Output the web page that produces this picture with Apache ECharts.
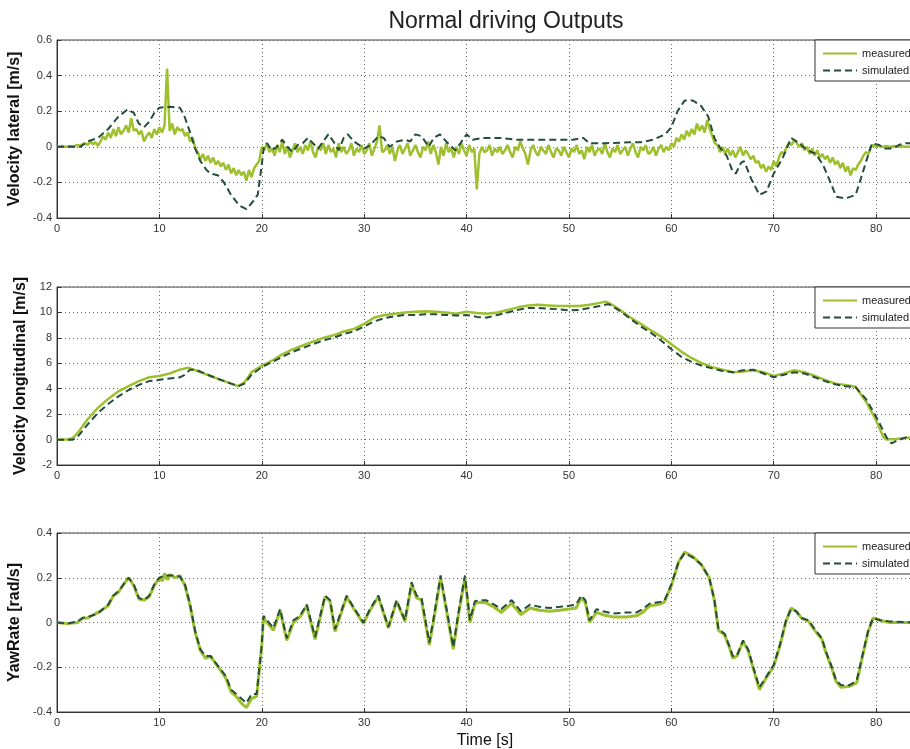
<!DOCTYPE html>
<html><head><meta charset="utf-8">
<script src="https://cdn.jsdelivr.net/npm/echarts@6/dist/echarts.min.js"></script>
<style>html,body{margin:0;padding:0;background:#fff}#c{width:910px;height:749px}</style>
</head><body><div id="c"></div>
<script>
// ---------- DATA ----------
const xTickValues = [0,10,20,30,40,50,60,70,80];
const seriesNames = ['measured','simulated'];

// Lateral velocity, measured (sampled every 0.25 s)
const latMeasStep = 0.25;
const latMeasV = [
 0,0,0.005,0, 0,0.005,0,0.005, 0.01,0.005,0.015,0.02, 0.01,0.03,0.015,0.025,
 0.005,0.03,0.06,0.04, 0.08,0.05,0.1,0.06, 0.11,0.07,0.09,0.12, 0.08,0.16,0.09,0.1,
 0.07,0.09,0.03,0.06, 0.08,0.05,0.1,0.07, 0.11,0.08,0.12,0.44, 0.09,0.13,0.07,0.11,
 0.09,0.1,0.06,0.08, 0.03,0.05,-0.01,-0.03, -0.07,-0.04,-0.08,-0.05, -0.09,-0.06,-0.1,-0.08,
 -0.11,-0.09,-0.13,-0.1, -0.15,-0.12,-0.16,-0.13, -0.16,-0.14,-0.19,-0.13, -0.17,-0.12,-0.1,-0.08,
 0.0,-0.02,0.02,-0.03, -0.01,-0.05,0.01,-0.03, 0.03,-0.04,0.0,-0.06, -0.02,0.02,-0.03,0.0,
 -0.04,0.01,-0.02,0.03, -0.03,-0.06,0.0,-0.02, 0.02,-0.04,0.01,-0.03, -0.01,-0.06,0.02,-0.03,
 0.0,-0.04,-0.02,0.02, -0.05,-0.01,-0.03,0.01, -0.04,-0.02,0.02,-0.05, -0.01,0.03,0.12,-0.03,
 -0.02,0.01,-0.04,0.0, -0.08,-0.02,0.01,-0.04, -0.01,0.02,-0.05,-0.02, 0.01,-0.03,-0.06,0.0,
 -0.02,0.03,-0.04,0.01, -0.03,-0.1,0.0,-0.05, 0.02,-0.03,-0.01,-0.06, 0.0,-0.04,0.02,-0.02,
 -0.05,0.01,-0.03,-0.01, -0.24,-0.04,0.0,-0.03, -0.02,0.01,-0.05,-0.01, -0.03,0.0,-0.04,-0.02,
 0.01,-0.03,-0.06,0.0, -0.02,0.03,-0.01,-0.04, -0.1,-0.02,0.01,-0.03, -0.05,0.0,-0.02,-0.04,
 0.01,-0.03,-0.06,-0.01, -0.02,-0.05,0.0,-0.03, -0.06,-0.01,-0.03,0.01, -0.04,-0.02,-0.07,0.0,
 -0.03,0.01,-0.05,-0.02, -0.01,-0.04,0.02,-0.03, -0.06,-0.01,-0.03,0.01, -0.04,-0.02,0.0,-0.05,
 -0.01,0.02,-0.03,-0.06, 0.0,-0.02,0.01,-0.04, -0.03,0.0,-0.05,-0.01, 0.01,-0.03,0.0,-0.02,
 0.02,0.0,0.05,0.03, 0.07,0.04,0.09,0.06, 0.1,0.07,0.13,0.09, 0.12,0.08,0.15,0.1,
 0.06,0.02,0.01,-0.03, 0.0,-0.04,-0.01,-0.05, -0.02,-0.06,-0.03,0.0, -0.05,-0.02,-0.04,-0.07,
 -0.05,-0.09,-0.08,-0.12, -0.1,-0.14,-0.11,-0.13, -0.08,-0.11,-0.06,-0.03, -0.04,0.0,0.02,0.01,
 0.04,0.02,0.0,0.02, -0.02,0.0,-0.04,-0.01, -0.05,-0.02,-0.06,-0.04, -0.07,-0.05,-0.09,-0.06,
 -0.1,-0.08,-0.12,-0.09, -0.14,-0.11,-0.16,-0.12, -0.13,-0.1,-0.08,-0.05, -0.03,-0.04,0.0,0.01,
 0.0,0.005,0.0,0.0, 0.005,0.0,0.0,0.005, 0.0,0.0,0.005,0.0, 0.0,0.0,0.0
];

// Lateral velocity, simulated (time / value)
const latSimT = [0,2.3,3,4,5,6,6.9,7.5,8,8.5,9,9.5,10,11,12,12.4,13,13.5,14,14.6,15,15.7,16.3,17,17.8,18.5,19.1,19.6,20,20.2,20.5,21,21.5,22,22.5,23,23.5,24,24.5,25,25.5,26,26.5,27,27.5,28,28.4,29,30,30.6,31.4,31.9,32.5,33.2,34,34.5,35,35.6,36.3,36.8,37.4,38,38.9,39.4,40,40.6,41.6,43.2,44.9,47.1,50.4,51.4,52,53.6,55.9,57,58.2,59.4,60,60.6,61.3,62.1,62.9,63.6,64.2,64.7,65.4,66,66.3,66.8,67.1,67.8,68.6,69.3,70,70.9,71.7,72.5,73.3,74.1,74.8,75.4,76.1,77,78,78.5,79.2,79.6,80.3,80.9,81.6,82.2,82.9,83.6];
const latSimV = [0,0,0.03,0.05,0.1,0.17,0.21,0.19,0.13,0.11,0.14,0.19,0.22,0.225,0.22,0.18,0.08,-0.01,-0.08,-0.13,-0.15,-0.16,-0.2,-0.27,-0.33,-0.35,-0.31,-0.27,-0.1,0,0.02,-0.02,0,0.04,0,-0.03,0.01,0.02,0.05,0.02,-0.01,0.03,0.07,0.03,-0.02,0.05,0.07,0.03,-0.01,0.01,0.06,0.05,0,0.03,0.04,0.03,0.07,0.06,0,0.05,0.07,0.03,-0.02,0.02,0.07,0.04,0.05,0.05,0.04,0.04,0.04,0.05,0.02,0.02,0.025,0.025,0.04,0.07,0.11,0.2,0.26,0.26,0.23,0.17,0.05,0,-0.05,-0.14,-0.15,-0.09,-0.08,-0.18,-0.27,-0.25,-0.15,-0.06,0.05,0.02,-0.02,-0.04,-0.1,-0.18,-0.28,-0.29,-0.27,-0.18,-0.05,0.02,0.01,-0.01,-0.01,0.01,0.02,0.02];

// Longitudinal velocity
const lonMeasT = [0,1,1.5,2,3,4,5,6,7,8,9,10,11,12,12.8,13.5,14,15,16,17,17.7,18.3,19,20,21,22,23,24,25,26,27,28,29,30,31,32,33,34,35,36,37,38,39,40,41,42,43,44,45,46,47,48,49,50,51,52,53,53.6,54,55,56,57,58,59,60,61,62,63,64,65,66,67,68,69,70,71,72,73,74,75,76,77,78,79,80,80.7,81,82,83,83.6];
const lonMeasV = [0,0,0.1,0.5,1.6,2.5,3.2,3.8,4.2,4.6,4.9,5.0,5.2,5.5,5.65,5.45,5.3,5.0,4.7,4.4,4.2,4.5,5.3,5.8,6.2,6.7,7.1,7.4,7.7,8.0,8.2,8.5,8.7,9.1,9.6,9.8,9.9,10.0,10.05,10.1,10.05,10.0,9.9,10.05,9.95,9.9,10.0,10.2,10.4,10.55,10.6,10.55,10.5,10.5,10.5,10.6,10.75,10.85,10.7,10.2,9.6,9.1,8.6,8.1,7.5,6.9,6.4,6.0,5.7,5.5,5.3,5.35,5.45,5.3,5.0,5.2,5.45,5.3,5.0,4.7,4.4,4.3,4.15,3.0,1.5,0.2,0.0,0.05,0.15,0.15];
const lonSimT = [0,1.5,2,3,4,5,6,7,8,9,10,11,12,12.5,13,13.5,14,15,16,17,17.7,18.3,19,20,21,22,23,24,25,26,27,28,29,30,31,32,33,34,35,36,37,38,39,40,41,42,43,44,45,46,47,48,49,50,51,52,53,53.8,54,55,56,57,58,59,60,61,62,63,64,65,66,67,68,69,70,71,72,73,74,75,76,77,78,79,80,81,81.5,82,83,83.6];
const lonSimV = [-0.02,-0.02,0.2,1.2,2.1,2.8,3.4,3.9,4.3,4.6,4.7,4.8,4.9,5.1,5.5,5.5,5.35,5.0,4.7,4.4,4.2,4.4,5.1,5.7,6.1,6.5,6.9,7.2,7.5,7.8,8.0,8.3,8.5,8.9,9.3,9.55,9.7,9.8,9.8,9.85,9.85,9.8,9.75,9.8,9.65,9.6,9.8,10.0,10.2,10.35,10.35,10.3,10.25,10.15,10.2,10.35,10.5,10.65,10.6,10.1,9.5,8.9,8.4,7.8,7.1,6.5,6.1,5.8,5.6,5.4,5.3,5.45,5.5,5.2,4.9,5.1,5.3,5.2,4.9,4.6,4.35,4.2,4.1,3.2,1.8,0.2,-0.3,-0.1,0.2,0.2];

// Yaw rate
const yawSimT = [0,1,2,2.5,3,4,5,5.5,6,6.5,7,7.5,8,8.5,9,9.5,10,10.5,11,11.5,12,12.5,13,13.5,14,14.5,15,15.5,16,16.5,17,17.5,18,18.5,19,19.5,20,20.16,21.14,21.79,22.44,23.09,23.74,24.39,25.2,26.18,26.67,27.15,28.29,28.94,29.92,30.57,31.38,32.36,33.17,33.98,34.63,35.12,35.6,36.36,36.75,37.46,38.05,38.7,39.19,39.84,40.33,40.81,41.3,41.9,42.7,43.4,44.4,45.3,46.2,47.1,48.1,49.1,50,50.7,51.2,51.6,52,52.7,53.3,54.3,55.6,56.6,57.2,57.9,58.7,59.3,60,60.7,61.3,62.1,62.9,63.7,64.2,64.6,65.2,65.7,66,66.4,67,67.5,68,68.6,69.3,70,70.6,71.2,71.7,72.2,72.7,73.4,74,74.7,75.1,75.6,76.1,76.6,77.4,78.1,78.7,79.2,79.7,80.4,81.3,83.6];
const yawSimV = [0,-0.005,0.005,0.02,0.025,0.04,0.08,0.12,0.14,0.17,0.2,0.17,0.11,0.1,0.12,0.17,0.2,0.21,0.21,0.21,0.205,0.17,0.08,-0.04,-0.12,-0.15,-0.15,-0.18,-0.21,-0.24,-0.3,-0.32,-0.34,-0.36,-0.32,-0.32,-0.1,0.03,-0.025,0.06,-0.07,0.01,0.03,0.08,-0.065,0.12,0.1,-0.03,0.12,0.07,0,0.06,0.12,-0.02,0.1,0.01,0.18,0.12,0.11,-0.09,0.01,0.21,0.06,-0.11,0.04,0.21,0.01,0.095,0.1,0.1,0.08,0.06,0.1,0.05,0.08,0.07,0.065,0.07,0.075,0.08,0.12,0.1,0.01,0.06,0.05,0.04,0.045,0.045,0.06,0.085,0.09,0.095,0.17,0.27,0.31,0.29,0.26,0.2,0.1,-0.03,-0.05,-0.11,-0.15,-0.15,-0.08,-0.12,-0.2,-0.29,-0.24,-0.19,-0.1,0.01,0.06,0.05,0.02,0.01,-0.03,-0.07,-0.13,-0.19,-0.26,-0.28,-0.28,-0.26,-0.14,-0.04,0.02,0.01,0.005,0];
const yawMeasT = [0,1,2,2.5,3,4,5,5.5,6,6.5,7,7.5,8,8.5,9,9.5,10,10.3,10.5,10.8,11,11.5,12,12.5,13,13.5,14,14.5,15,15.5,16,16.5,17,17.5,18,18.5,19,19.5,20,20.16,21.14,21.79,22.44,23.09,23.74,24.39,25.2,26.18,26.67,27.15,28.29,28.94,29.92,30.57,31.38,32.36,33.17,33.98,34.63,35.12,35.6,36.36,36.75,37.46,38.05,38.7,39.19,39.84,40.33,40.81,41.3,41.9,42.7,43.4,44.4,45.3,46.2,47.1,48.1,49.1,50,50.7,51.2,51.6,52,52.7,53.3,54.3,55.6,56.6,57.2,57.9,58.7,59.3,60,60.7,61.3,62.1,62.9,63.7,64.2,64.6,65.2,65.7,66,66.4,67,67.5,68,68.6,69.3,70,70.6,71.2,71.7,72.2,72.7,73.4,74,74.7,75.1,75.6,76.1,76.6,77.4,78.1,78.7,79.2,79.7,80.4,81.3,83.6];
const yawMeasV = [0,-0.005,0,0.02,0.02,0.045,0.075,0.12,0.135,0.17,0.2,0.165,0.105,0.1,0.115,0.165,0.2,0.185,0.22,0.19,0.215,0.2,0.21,0.165,0.075,-0.045,-0.125,-0.16,-0.15,-0.185,-0.215,-0.25,-0.31,-0.33,-0.36,-0.38,-0.34,-0.33,-0.1,0.02,-0.035,0.055,-0.08,0,0.025,0.075,-0.075,0.115,0.095,-0.04,0.115,0.065,-0.005,0.055,0.115,-0.025,0.095,0.005,0.17,0.11,0.1,-0.1,0,0.2,0.05,-0.12,0.03,0.2,0,0.085,0.09,0.088,0.068,0.045,0.085,0.035,0.065,0.055,0.05,0.055,0.06,0.065,0.11,0.09,0,0.045,0.035,0.025,0.025,0.03,0.045,0.075,0.08,0.09,0.165,0.27,0.315,0.295,0.26,0.2,0.1,-0.035,-0.055,-0.115,-0.16,-0.15,-0.085,-0.125,-0.205,-0.3,-0.245,-0.195,-0.105,0.005,0.065,0.05,0.02,0.005,-0.035,-0.075,-0.135,-0.195,-0.265,-0.29,-0.285,-0.27,-0.145,-0.045,0.02,0.01,0,0];

// ---------- CHART ----------
const zip = (t, v) => v.map((y, i) => [t[i], y]);
const latMeasT = latMeasV.map((_, i) => i * latMeasStep);

const MEAS = '#9fc02e', SIM = '#234e3b';
const FONT = 'Liberation Sans, Arial, sans-serif';
const grids = [
  {left: 57, top: 40, width: 856, height: 178},
  {left: 57, top: 287, width: 856, height: 178},
  {left: 57, top: 533, width: 856, height: 179}
].map(g => Object.assign(g, {show: true, borderColor: '#444', borderWidth: 1,
  backgroundColor: '#fff', containLabel: false, outerBoundsMode: 'none'}));

function xAxis(i, name) {
  return {
    type: 'value', gridIndex: i, min: 0, max: 83.6, interval: 10,
    name: name || '', nameLocation: 'middle', nameGap: 21,
    nameTextStyle: {fontFamily: FONT, fontSize: 16, color: '#111'},
    axisLine: {onZero: false, lineStyle: {color: '#333'}},
    axisTick: {inside: true, length: 4, lineStyle: {color: '#333'}},
    axisLabel: {fontFamily: FONT, fontSize: 11, color: '#333', margin: 5,
      formatter: v => (xTickValues.indexOf(Math.round(v * 100) / 100) >= 0 ? String(v) : '')},
    splitLine: {show: true, lineStyle: {color: '#666', type: [1, 3], width: 1}}
  };
}
function yAxis(i, min, max, interval, name) {
  return {
    type: 'value', gridIndex: i, min, max, interval,
    name, nameLocation: 'middle', nameRotate: 90, nameGap: 25,
    nameTextStyle: {fontFamily: FONT, fontSize: 16, fontWeight: 'bold', color: '#111'},
    axisLine: {show: true, onZero: false, lineStyle: {color: '#333'}},
    axisTick: {show: true, inside: true, length: 4, lineStyle: {color: '#333'}},
    axisLabel: {fontFamily: FONT, fontSize: 11, color: '#333', margin: 5},
    splitLine: {show: true, lineStyle: {color: '#666', type: [1, 3], width: 1}}
  };
}
function legend(top) {
  return {
    left: 815, top, orient: 'vertical', data: seriesNames,
    itemWidth: 34, itemHeight: 10, itemGap: 6,
    padding: [8, 20, 5, 7],
    itemStyle: {opacity: 0},
    backgroundColor: '#fff', borderColor: '#333', borderWidth: 1, borderRadius: 0,
    textStyle: {fontFamily: FONT, fontSize: 11, color: '#222'}
  };
}
function meas(i, data, w) {
  return {name: seriesNames[0], type: 'line', xAxisIndex: i, yAxisIndex: i, data,
    symbol: 'none', lineStyle: {color: MEAS, width: w}, itemStyle: {color: MEAS}, z: 2};
}
function sim(i, data) {
  return {name: seriesNames[1], type: 'line', xAxisIndex: i, yAxisIndex: i, data,
    symbol: 'none', lineStyle: {color: SIM, width: 2, type: [7, 4]}, itemStyle: {color: SIM}, z: 3};
}

const chart = echarts.init(document.getElementById('c'), null, {renderer: 'canvas'});
chart.setOption({
  animation: false,
  backgroundColor: '#fff',
  title: {text: 'Normal driving Outputs', left: 501, top: 5, textAlign: 'center',
    textStyle: {fontFamily: FONT, fontSize: 23, fontWeight: 'normal', color: '#222'}},
  legend: [legend(40), legend(287), legend(533)],
  grid: grids,
  xAxis: [xAxis(0), xAxis(1), xAxis(2, 'Time [s]')],
  yAxis: [
    yAxis(0, -0.4, 0.6, 0.2, 'Velocity lateral [m/s]'),
    yAxis(1, -2, 12, 2, 'Velocity longitudinal [m/s]'),
    yAxis(2, -0.4, 0.4, 0.2, 'YawRate [rad/s]')
  ],
  series: [
    meas(0, zip(latMeasT, latMeasV), 2.5), sim(0, zip(latSimT, latSimV)),
    meas(1, zip(lonMeasT, lonMeasV), 2.5), sim(1, zip(lonSimT, lonSimV)),
    meas(2, zip(yawMeasT, yawMeasV), 3), sim(2, zip(yawSimT, yawSimV))
  ]
});
</script></body></html>
